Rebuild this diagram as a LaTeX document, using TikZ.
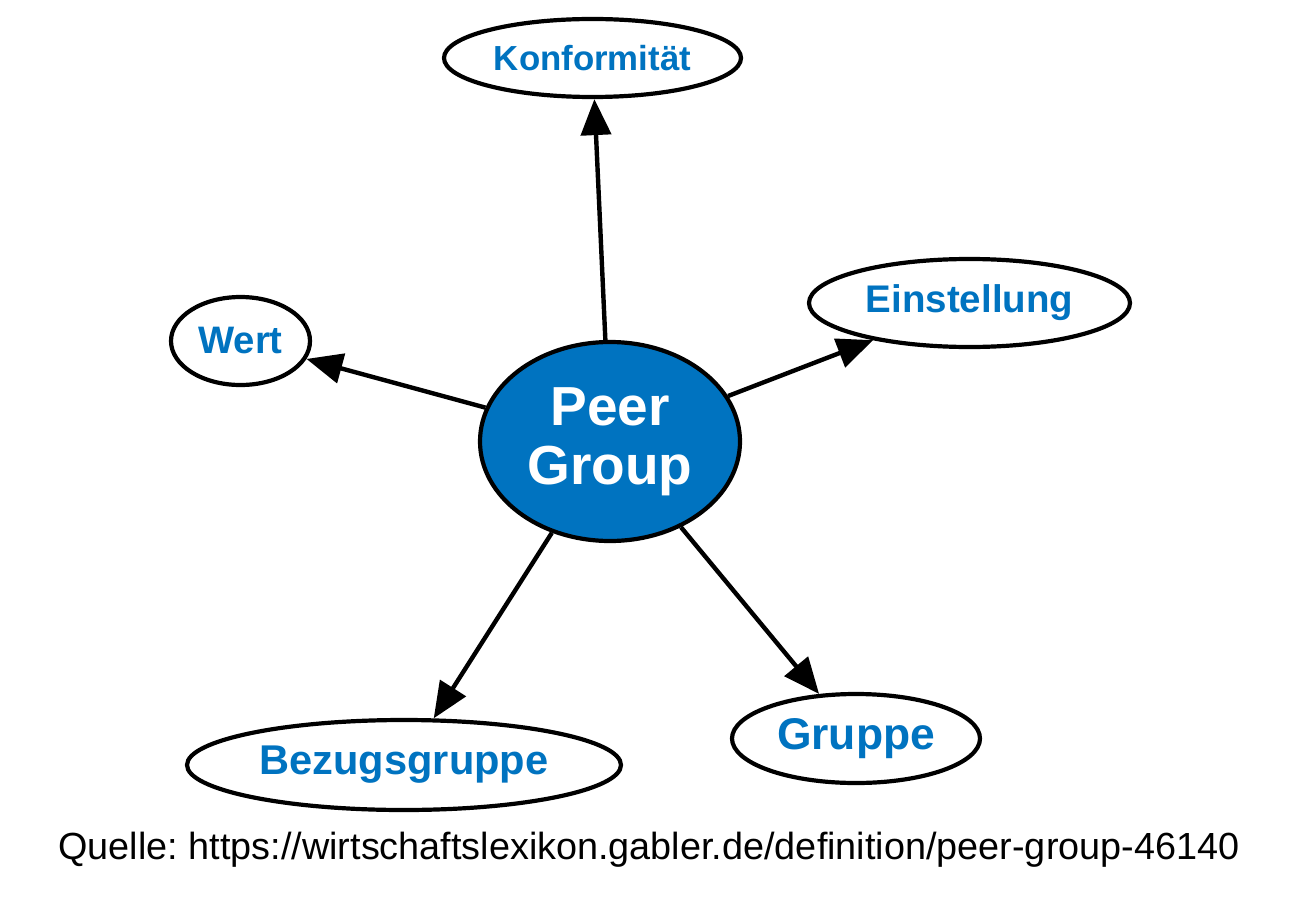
\documentclass[tikz,border=0pt]{standalone}
\usepackage{fontspec}
\setmainfont{Liberation Sans}
\usetikzlibrary{shapes.geometric,arrows.meta}
\definecolor{pgblue}{RGB}{0,115,192}
\tikzset{
  leaf/.style={ellipse,draw=black,line width=4.2pt,fill=white,inner sep=0pt,text=pgblue,font=\bfseries},
  hub/.style={ellipse,draw=black,line width=4.2pt,fill=pgblue,inner sep=0pt,text=white,align=center,font=\fontsize{55}{59}\selectfont\bfseries},
  link/.style={line width=4.4pt,-{Triangle[length=36pt,width=30pt]}}
}
\frenchspacing
\begin{document}
\begin{tikzpicture}[x=1pt,y=-1pt]
\useasboundingbox (0,0) rectangle (1300,912);
\node[hub,minimum width=260pt,minimum height=199pt] (pg) at (610,441.5) {Peer\\Group};
\node[leaf,minimum width=297pt,minimum height=78pt] (konf) at (592.5,58) {\fontsize{34.8}{40}\selectfont Konformität};
\node[leaf,minimum width=321pt,minimum height=88pt] (einst) at (969.5,303) {\fontsize{38.5}{44}\selectfont Einstellung};
\node[leaf,minimum width=139pt,minimum height=88pt] (wert) at (240.5,341) {\fontsize{38.3}{44}\selectfont Wert};
\node[leaf,minimum width=434pt,minimum height=90pt] (bezug) at (404,765) {\fontsize{41.6}{48}\selectfont Bezugsgruppe};
\node[leaf,minimum width=248pt,minimum height=89pt] (grp) at (856,738.5) {\fontsize{44.4}{50}\selectfont Gruppe};
\draw[link] (pg) -- (konf);
\draw[link] (pg) -- (einst);
\draw[link] (pg) -- (wert);
\draw[link] (pg) -- (bezug);
\draw[link] (pg) -- (grp);
\node[inner sep=0pt,font=\fontsize{37.8}{44}\selectfont] (src) at (649,850) {Quelle: https://wirtschaftslexikon.gabler.de/definition/peer-group-46140};
\end{tikzpicture}
\end{document}
